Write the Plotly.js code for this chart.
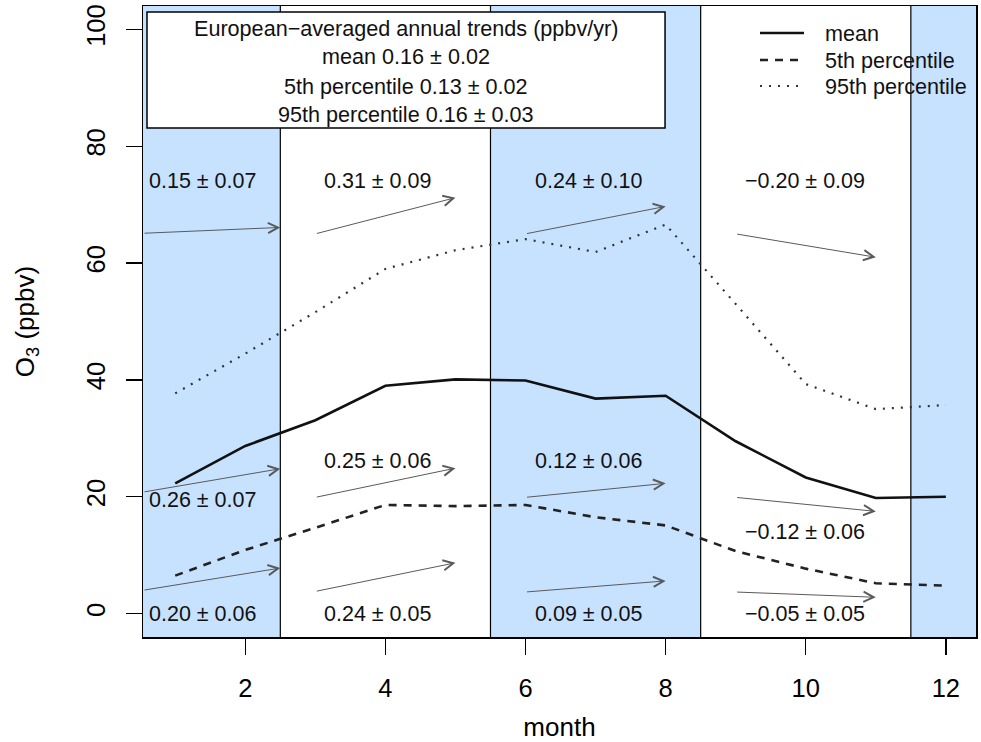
<!DOCTYPE html>
<html>
<head>
<meta charset="utf-8">
<script src="https://cdn.plot.ly/plotly-3.0.1.min.js"></script>
<style>html,body{margin:0;padding:0;background:#fff}</style>
</head>
<body>
<div id="chart" style="width:981px;height:742px"></div>
<script>
// Monthly European-averaged surface ozone (ppbv)
const months = [1, 2, 3, 4, 5, 6, 7, 8, 9, 10, 11, 12];
const o3Mean = [22.3, 28.7, 33.1, 39.0, 40.1, 39.9, 36.8, 37.3, 29.5, 23.3, 19.8, 20.0];
const o3P05  = [6.5, 10.9, 14.7, 18.6, 18.4, 18.6, 16.5, 15.1, 10.7, 7.7, 5.2, 4.8];
const o3P95  = [37.7, 44.5, 51.6, 59.0, 62.2, 64.1, 61.9, 66.6, 53.0, 39.3, 35.0, 35.7];

// Seasons: DJF, MAM, JJA, SON
const seasonEdges = [2.5, 5.5, 8.5, 11.5];
const shadedSpans = [[0, 2.5], [5.5, 8.5], [11.5, 13]];
const seasonLabelX = [0.6, 3.1, 6.1, 9.1];
const arrowX0 = [0.54, 3, 6, 9];
const arrowX1 = [2.5, 5, 8, 11];

// Seasonal trend labels (ppbv/yr)
const trendP95  = ['0.15 ± 0.07', '0.31 ± 0.09', '0.24 ± 0.10', '−0.20 ± 0.09'];
const trendMean = ['0.26 ± 0.07', '0.25 ± 0.06', '0.12 ± 0.06', '−0.12 ± 0.06'];
const trendP05  = ['0.20 ± 0.06', '0.24 ± 0.05', '0.09 ± 0.05', '−0.05 ± 0.05'];

// Trend arrows: start / end ozone level for each season
const arrowP95Y0  = [65.1, 65.0, 65.0, 65.0];
const arrowP95Y1  = [66.1, 71.2, 69.7, 61.0];
const arrowMeanY0 = [20.8, 19.9, 19.9, 19.9];
const arrowMeanY1 = [24.8, 24.9, 22.3, 17.5];
const arrowP05Y0  = [4.0, 3.8, 3.7, 3.7];
const arrowP05Y1  = [7.8, 8.7, 5.6, 2.8];

// Label heights for each row of trend labels
const labelP95Y  = [74, 74, 74, 74];
const labelMeanY = [19.4, 26.2, 26.2, 14.0];
const labelP05Y  = [0, 0, 0, 0];

// Summary box and legend text
const summaryLines = [
  'European−averaged annual trends (ppbv/yr)',
  'mean 0.16 ± 0.02',
  '5th percentile 0.13 ± 0.02',
  '95th percentile 0.16 ± 0.03'
];
const legendNames = ['mean', '5th percentile', '95th percentile'];

const xRange = [0.54, 12.43];
const yRange = [-4, 104];
const FONT = 'Liberation Sans, Arial, sans-serif';

const lineStyles = [
  {color: '#111', width: 2.6, dash: 'solid'},
  {color: '#222', width: 2.6, dash: '8px,7px'},
  {color: '#333', width: 2.2, dash: '2px,7px'}
];

const traces = [o3Mean, o3P05, o3P95].map((vals, i) => ({
  x: months, y: vals, type: 'scatter', mode: 'lines',
  name: legendNames[i], line: lineStyles[i], showlegend: false,
  hoverinfo: 'skip'
}));

const shapes = [];
shadedSpans.forEach(([a, b]) => shapes.push({
  type: 'rect', xref: 'x', yref: 'paper',
  x0: Math.max(a, xRange[0]), x1: Math.min(b, xRange[1]), y0: 0, y1: 1,
  fillcolor: '#c6e2ff', line: {width: 0}, layer: 'below'
}));
seasonEdges.forEach(e => shapes.push({
  type: 'line', xref: 'x', yref: 'paper', x0: e, x1: e, y0: 0, y1: 1,
  line: {color: '#000', width: 1.2}, layer: 'below'
}));

// summary box (top left)
shapes.push({
  type: 'rect', xref: 'paper', yref: 'paper',
  x0: 0.0048, x1: 0.6267, y0: 0.8067, y1: 0.9905,
  fillcolor: '#fff', line: {color: '#000', width: 1.5}, layer: 'above'
});

// legend samples (top right)
const legendY = [0.9572, 0.9144, 0.8732];
legendNames.forEach((n, i) => shapes.push({
  type: 'line', xref: 'paper', yref: 'paper',
  x0: 0.7407, x1: 0.7935, y0: legendY[i], y1: legendY[i],
  line: {color: lineStyles[i].color, width: lineStyles[i].width, dash: lineStyles[i].dash},
  layer: 'above'
}));

const annotations = [];
const arrowSets = [
  [arrowP95Y0, arrowP95Y1],
  [arrowMeanY0, arrowMeanY1],
  [arrowP05Y0, arrowP05Y1]
];
arrowSets.forEach(([y0s, y1s]) => {
  y0s.forEach((y0, i) => annotations.push({
    x: arrowX1[i], y: y1s[i], xref: 'x', yref: 'y',
    ax: arrowX0[i], ay: y0, axref: 'x', ayref: 'y',
    text: '', showarrow: true, arrowhead: 5, arrowsize: 2.0,
    arrowwidth: 1.0, arrowcolor: '#5a5a5a'
  }));
});

const labelSets = [
  [trendP95, labelP95Y],
  [trendMean, labelMeanY],
  [trendP05, labelP05Y]
];
labelSets.forEach(([texts, ys]) => {
  texts.forEach((t, i) => annotations.push({
    x: seasonLabelX[i], y: ys[i], xref: 'x', yref: 'y',
    xanchor: 'left', yanchor: 'middle', text: t, showarrow: false,
    font: {family: FONT, size: 21.5, color: '#111'}
  }));
});

const summaryY = [0.9651, 0.9192, 0.8732, 0.8273];
summaryLines.forEach((t, i) => annotations.push({
  x: 0.3157, y: summaryY[i], xref: 'paper', yref: 'paper',
  xanchor: 'center', yanchor: 'middle', text: t, showarrow: false,
  font: {family: FONT, size: 21.6, color: '#111'}
}));

legendNames.forEach((n, i) => annotations.push({
  x: 0.8163, y: legendY[i], xref: 'paper', yref: 'paper',
  xanchor: 'left', yanchor: 'middle', text: n, showarrow: false,
  font: {family: FONT, size: 21.6, color: '#111'}
}));

const axisCommon = {
  ticks: 'outside', ticklen: 16, tickwidth: 1.3, tickcolor: '#000',
  showline: true, mirror: true, linecolor: '#000', linewidth: 1.5,
  showgrid: false, zeroline: false,
  tickfont: {family: FONT, size: 25.5, color: '#000'}
};

const layout = {
  width: 981, height: 742,
  margin: {l: 143, r: 5, t: 6, b: 105},
  paper_bgcolor: '#fff', plot_bgcolor: '#fff',
  font: {family: FONT, color: '#000'},
  showlegend: false,
  xaxis: Object.assign({}, axisCommon, {
    range: xRange, tickvals: [2, 4, 6, 8, 10, 12],
    ticklabelstandoff: 12,
    title: {text: 'month', font: {family: FONT, size: 26, color: '#000'}, standoff: 16}
  }),
  yaxis: Object.assign({}, axisCommon, {
    range: yRange, tickvals: [0, 20, 40, 60, 80, 100], tickangle: -90,
    ticklabelstandoff: 10,
    title: {text: 'O<sub>3</sub> (ppbv)', font: {family: FONT, size: 26, color: '#000'}, standoff: 40}
  }),
  shapes: shapes,
  annotations: annotations
};

Plotly.newPlot('chart', traces, layout, {staticPlot: true, displayModeBar: false});
</script>
</body>
</html>
